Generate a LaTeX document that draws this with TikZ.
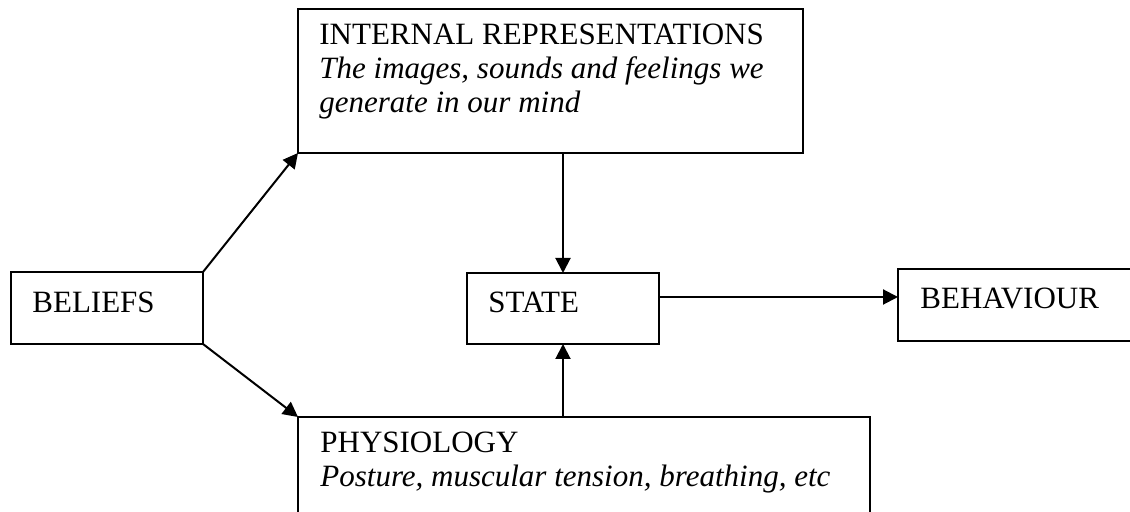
\documentclass[tikz,border=0pt]{standalone}
\usepackage{fontspec}
\setmainfont{Liberation Serif}
\usetikzlibrary{arrows.meta}
\begin{document}
\begin{tikzpicture}[x=0.5pt,y=-0.5pt,
  box/.style={draw, line width=1pt, inner sep=0pt, outer sep=0pt, anchor=north west},
  lbl/.style={anchor=base west, inner sep=0pt, font=\fontsize{15.5}{17}\selectfont},
  sub/.style={anchor=base west, inner sep=0pt, font=\fontsize{15.5}{17}\selectfont\itshape},
  arr/.style={line width=1pt, -{Triangle[length=7.5pt,width=7.5pt]}}]
\useasboundingbox (0,0) rectangle (1130,512);
\clip (0,0) rectangle (1130,512);
\node[box, minimum width=96pt, minimum height=36pt] (bel) at (11,272) {};
\node[box, minimum width=252.5pt, minimum height=72pt] (int) at (298,9) {};
\node[box, minimum width=286pt, minimum height=55pt] (phys) at (298,417) {};
\node[box, minimum width=96pt, minimum height=35.5pt] (state) at (467,273) {};
\node[box, minimum width=125pt, minimum height=36pt] (beh) at (898,269) {};
\node[lbl] (tb) at (32,313) {BELIEFS};
\node[lbl] (ts) at (488,313) {STATE};
\node[lbl] (tbh) at (920,309) {BEHAVIOUR};
\node[lbl] (ti1) at (319,45) {INTERNAL REPRESENTATIONS};
\node[sub] (ti2) at (319,79) {The images, sounds and feelings we};
\node[sub] (ti3) at (319,113) {generate in our mind};
\node[lbl] (tp1) at (320,453) {PHYSIOLOGY};
\node[sub] (tp2) at (320,487) {Posture, muscular tension, breathing, etc};
\draw[arr] (bel.north east) -- (int.south west);
\draw[arr] (bel.south east) -- (phys.north west);
\draw[arr] (int.south -| state.north) -- (state.north);
\draw[arr] (phys.north -| state.south) -- (state.south);
\draw[arr] ([yshift=5.75pt]state.east) -- ([yshift=5.75pt]state.east -| beh.west);
\end{tikzpicture}
\end{document}
